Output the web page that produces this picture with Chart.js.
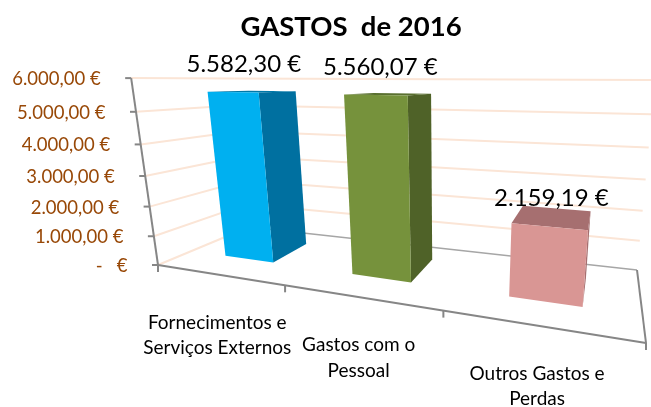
<!DOCTYPE html>
<html><head><meta charset="utf-8">
<style>html,body{margin:0;padding:0;background:#fff}#wrap{width:651px;height:407px}</style>
<script src="https://cdn.jsdelivr.net/npm/chart.js@4"></script>
</head><body><div id="wrap"><canvas id="c" width="651" height="407"></canvas></div>
<script>
const categories = [['Fornecimentos e','Serviços Externos'],['Gastos com o','Pessoal'],['Outros Gastos e','Perdas']];
const gastos = [5582.30, 5560.07, 2159.19];
const valueLabels = ['5.582,30 €','5.560,07 €','2.159,19 €'];
const frontColors = ['#00B0F0','#76923C','#D99694'];
const sideColors = ['#0070A0','#4F6228','#A66F70'];
const topColors = ['#0078A8','#5A7030','#A66F70'];

// Perspective box the flat chart area is projected into
const FL=[158,265],FR=[646,343],BL=[249,227],BR=[637,270],VP=[446,2271];
const FONT='Lato, Carlito, sans-serif';
const DEPTH0=0.3, DEPTH1=0.74;
const labelShift=[[-8,-27],[-8,-27],[-1,-19]];
function project(t,v,s){
  const w=s/(s+(1-s)*0.72);
  const k=1.42-0.1*w;
  const u=t/(t+(1-t)*k);
  const fx=(1-w)*(FL[0]+u*(FR[0]-FL[0]))+w*(BL[0]+u*(BR[0]-BL[0]));
  const fy=(1-w)*(FL[1]+u*(FR[1]-FL[1]))+w*(BL[1]+u*(BR[1]-BL[1]));
  const g=v/(v+(1-v)*1.1);
  const topY=78+0.004*(fx-131);
  const y=fy+(topY-fy)*g;
  const x=fx+(VP[0]-fx)*(y-fy)/(VP[1]-fy);
  return [x,y];
}
function poly(ctx,pts,fill){
  ctx.beginPath();pts.forEach((p,i)=>i?ctx.lineTo(p[0],p[1]):ctx.moveTo(p[0],p[1]));ctx.closePath();
  ctx.fillStyle=fill;ctx.fill();
}
function line(ctx,pts,color,width){
  ctx.beginPath();pts.forEach((p,i)=>i?ctx.lineTo(p[0],p[1]):ctx.moveTo(p[0],p[1]));
  ctx.strokeStyle=color;ctx.lineWidth=width;ctx.stroke();
}
const box3d={
  id:'box3d',
  beforeDatasetsDraw(chart){
    const {ctx,chartArea:a,scales:{x:sx,y:sy}}=chart;
    const V=val=>(a.bottom-sy.getPixelForValue(val))/(a.bottom-a.top);
    ctx.save();ctx.lineCap='butt';
    sy.ticks.forEach(tk=>{
      const v=V(tk.value);
      line(ctx,[project(0,v,0),project(0,v,1)],sy.options.grid.color,2);
      if(tk.value!==0) line(ctx,[project(0,v,1),project(1,v,1)],sy.options.grid.color,2);
    });
    line(ctx,[project(0,0,1),project(1,0,1)],'#A6A6A6',1.5);
    line(ctx,[project(1,0,1),project(1,0,0)],'#868686',2);
    line(ctx,[project(0,1,0),project(0,0,0)],'#868686',2);
    line(ctx,[project(0,0,0),project(1,0,0)],'#868686',2);
    // value ticks and labels
    ctx.textAlign='right';ctx.textBaseline='middle';
    ctx.font=sy.options.ticks.font.size+'px '+sy.options.ticks.font.family;
    sy.ticks.forEach(tk=>{
      const p=project(0,V(tk.value),0);
      line(ctx,[[p[0]-6,p[1]],p],'#868686',2);
      ctx.fillStyle=sy.options.ticks.color;
      ctx.fillText(tk.label,p[0]-30.5,p[1]+1);
    });
    // category ticks and labels
    const n=sx.ticks.length;
    for(let i=0;i<=n;i++){
      const p=project(i/n,0,0);
      line(ctx,[p,[p[0],p[1]+7]],'#868686',2);
    }
    ctx.textAlign='center';
    ctx.font=sx.options.ticks.font.size+'px '+sx.options.ticks.font.family;
    ctx.fillStyle=sx.options.ticks.color;
    sx.ticks.forEach((tk,i)=>{
      const t=(sx.getPixelForTick(i)-a.left)/(a.right-a.left);
      const p=project(t,0,0);
      [].concat(tk.label).forEach((s,j)=>ctx.fillText(s,p[0]-1,p[1]+48+j*25.5));
    });
    ctx.restore();
  },
  beforeDatasetDraw(chart,args){
    const {ctx,chartArea:a}=chart;
    const T=x=>(x-a.left)/(a.right-a.left);
    const meta=args.meta;
    ctx.save();
    meta.data.forEach((bar,i)=>{
      const p=bar.getProps(['x','y','width','base']);
      const t0=T(p.x-p.width/2),t1=T(p.x+p.width/2);
      const v=(a.bottom-p.y)/(a.bottom-a.top);
      poly(ctx,[project(t1,0,DEPTH0),project(t1,0,DEPTH1),project(t1,v,DEPTH1),project(t1,v,DEPTH0)],sideColors[i]);
      poly(ctx,[project(t0,v,DEPTH0),project(t1,v,DEPTH0),project(t1,v,DEPTH1),project(t0,v,DEPTH1)],topColors[i]);
      poly(ctx,[project(t0,0,DEPTH0),project(t1,0,DEPTH0),project(t1,v,DEPTH0),project(t0,v,DEPTH0)],bar.options.backgroundColor);
    });
    ctx.textAlign='center';ctx.textBaseline='middle';ctx.fillStyle='#000';
    ctx.font='24px '+FONT;
    meta.data.forEach((bar,i)=>{
      const p=bar.getProps(['x','y','width']);
      const v=(a.bottom-p.y)/(a.bottom-a.top);
      const c=project(T(p.x),v,0.5);
      ctx.fillText(valueLabels[i],c[0]+labelShift[i][0],c[1]+labelShift[i][1]);
    });
    ctx.restore();
    return false;
  }
};
new Chart(document.getElementById('c'),{
  type:'bar',
  data:{labels:categories,datasets:[{label:'GASTOS de 2016',data:gastos,backgroundColor:frontColors,barPercentage:0.40,categoryPercentage:1}]},
  plugins:[box3d],
  options:{
    responsive:false,animation:false,
    layout:{padding:{left:131,right:88,top:0,bottom:60}},
    plugins:{
      legend:{display:false},tooltip:{enabled:false},
      title:{display:true,text:'GASTOS  de 2016',color:'#000',fullSize:false,align:'center',
        font:{family:FONT,size:27.5,weight:'bold'},padding:{top:11,bottom:10}}
    },
    scales:{
      x:{grid:{display:false},border:{display:false},
         ticks:{display:false,autoSkip:false,maxRotation:0,color:'#000',font:{family:FONT,size:19}}},
      y:{min:0,max:6000,grid:{display:false,color:'#FBE5D6'},border:{display:false},
         ticks:{display:false,stepSize:1000,color:'#984807',font:{family:FONT,size:18.5},
           callback:v=>v===0?'-   €':(v/1000)+'.000,00 €'}}
    }
  }
});
</script></body></html>
